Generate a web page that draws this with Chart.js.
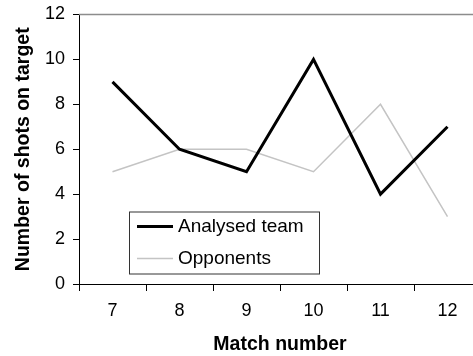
<!DOCTYPE html>
<html lang="en">
<head>
  <meta charset="UTF-8">
  <title>Shots on target per match</title>
  <script src="https://cdn.jsdelivr.net/npm/chart.js"></script>
  <style>
    html, body {
      margin: 0;
      padding: 0;
      background: #ffffff;
      overflow: hidden;
    }
    #chart {
      display: block;
    }
  </style>
</head>
<body>
  <canvas id="chart" width="484" height="356"></canvas>

  <script>
    // Data
    const matches = ['7', '8', '9', '10', '11', '12'];
    const analysedTeam = [9, 6, 5, 10, 4, 7];
    const opponents = [5, 6, 6, 5, 8, 3];
    const yTicks = [0, 2, 4, 6, 8, 10, 12];

    const FONT = '"Liberation Sans", Arial, sans-serif';

    // grey frame line along the top of the plot area
    const topBorder = {
      id: 'topBorder',
      afterDatasetsDraw(chart) {
        const { ctx, chartArea } = chart;
        ctx.save();
        ctx.strokeStyle = '#8c8c8c';
        ctx.lineWidth = 1.5;
        ctx.beginPath();
        ctx.moveTo(chartArea.left, chartArea.top);
        ctx.lineTo(chartArea.right, chartArea.top);
        ctx.stroke();
        ctx.restore();
      }
    };

    // boxed legend inside the plot, lower left
    const boxLegend = {
      id: 'boxLegend',
      afterDraw(chart) {
        const { ctx, chartArea } = chart;
        const x = chartArea.left + 50;
        const y = chartArea.top + 197;
        const w = 190;
        const h = 62;
        ctx.save();
        ctx.fillStyle = '#ffffff';
        ctx.fillRect(x, y, w, h);
        ctx.strokeStyle = '#333333';
        ctx.lineWidth = 1;
        ctx.strokeRect(x + 0.5, y + 0.5, w, h);
        ctx.font = '19px ' + FONT;
        ctx.textBaseline = 'middle';
        ctx.fillStyle = '#000000';
        chart.data.datasets.forEach((ds, i) => {
          const rowY = y + 15 + i * 32;
          ctx.strokeStyle = ds.borderColor;
          ctx.lineWidth = ds.borderWidth;
          ctx.beginPath();
          ctx.moveTo(x + 8, rowY);
          ctx.lineTo(x + 44, rowY);
          ctx.stroke();
          ctx.fillText(ds.label, x + 49, rowY);
        });
        ctx.restore();
      }
    };

    const ctx = document.getElementById('chart').getContext('2d');
    const chart = new Chart(ctx, {
      type: 'line',
      data: {
        labels: matches,
        datasets: [
          {
            label: 'Analysed team',
            data: analysedTeam,
            borderColor: '#000000',
            borderWidth: 3,
            pointRadius: 0,
            tension: 0,
            fill: false
          },
          {
            label: 'Opponents',
            data: opponents,
            borderColor: '#c4c4c4',
            borderWidth: 1.5,
            pointRadius: 0,
            tension: 0,
            fill: false
          }
        ]
      },
      options: {
        responsive: false,
        animation: false,
        layout: { padding: { top: 14.5, right: 3, bottom: 0, left: 0 } },
        plugins: {
          legend: { display: false },
          tooltip: { enabled: false }
        },
        scales: {
          x: {
            offset: true,
            grid: {
              offset: true,
              drawOnChartArea: false,
              drawTicks: true,
              tickLength: 7,
              color: '#000000'
            },
            border: { display: true, color: '#000000', width: 1 },
            ticks: {
              color: '#000000',
              font: { family: FONT, size: 18 },
              padding: 9,
              maxRotation: 0
            },
            title: {
              display: true,
              text: 'Match number',
              color: '#000000',
              font: { family: FONT, size: 19.5, weight: 'bold' },
              padding: { top: 0, bottom: 0 }
            },
            afterFit(scale) { scale.height = 72; }
          },
          y: {
            min: 0,
            max: 12,
            afterBuildTicks(scale) {
              scale.ticks = yTicks.map(v => ({ value: v }));
            },
            grid: {
              drawOnChartArea: false,
              drawTicks: true,
              tickLength: 6,
              color: '#000000'
            },
            border: { display: true, color: '#000000', width: 1 },
            ticks: {
              color: '#000000',
              font: { family: FONT, size: 18 },
              padding: 8
            },
            title: {
              display: true,
              text: 'Number of shots on target',
              color: '#000000',
              font: { family: FONT, size: 19.5, weight: 'bold' },
              padding: { top: 12, bottom: 0 }
            },
            afterFit(scale) {
              scale.width = 79;
              scale.paddingTop = 0;
              scale.paddingBottom = 0;
            }
          }
        }
      },
      plugins: [topBorder, boxLegend]
    });
  </script>
</body>
</html>
